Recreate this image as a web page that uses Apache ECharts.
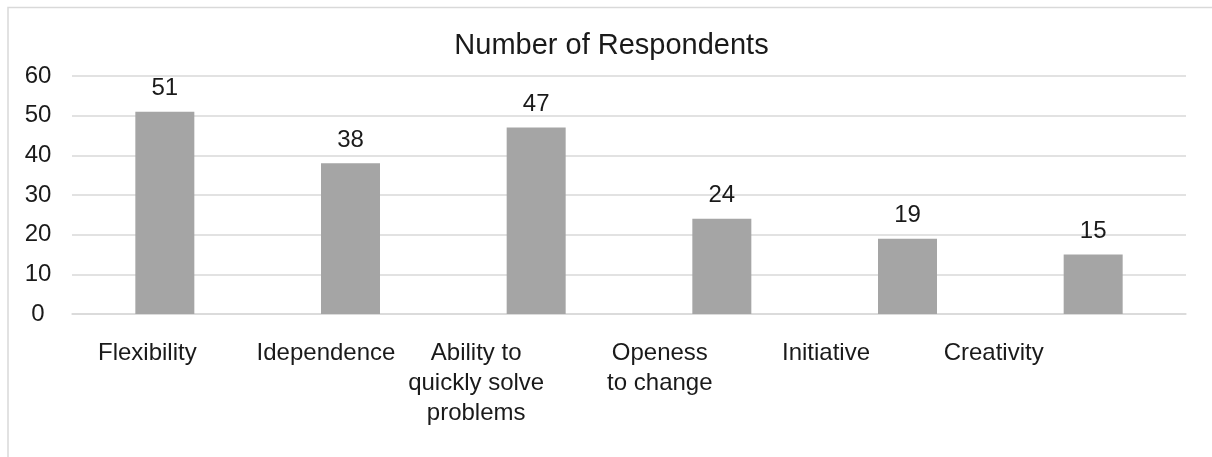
<!DOCTYPE html>
<html>
<head>
<meta charset="utf-8">
<script src="https://cdn.jsdelivr.net/npm/echarts@6/dist/echarts.min.js"></script>
<style>
html,body{margin:0;padding:0;background:#fff;}
#chart{width:1212px;height:457px;}
</style>
</head>
<body>
<div id="chart"></div>
<script>
var categories = ['Flexibility', 'Idependence', 'Ability to\nquickly solve\nproblems', 'Openess\nto change', 'Initiative', 'Creativity'];
var respondents = [51, 38, 47, 24, 19, 15];
var yTicks = [0, 10, 20, 30, 40, 50, 60];
var chartTitle = 'Number of Respondents';

var FONT = "'Liberation Sans', Arial, sans-serif";
// per-label right padding to reproduce the leftward offset of category labels
var labelPad = [35, 49, 120, 124, 163, 199];
var rich = {};
labelPad.forEach(function (p, i) {
  rich['c' + i] = {
    fontFamily: FONT, fontSize: 24, lineHeight: 30, color: '#1a1a1a',
    padding: [0, p, 0, 0], align: 'center'
  };
});

var chart = echarts.init(document.getElementById('chart'), null, {renderer: 'canvas'});
chart.setOption({
  animation: false,
  backgroundColor: '#ffffff',
  title: {
    text: chartTitle,
    left: 606.5,
    textAlign: 'center',
    top: 26,
    textStyle: {fontFamily: FONT, fontSize: 29, fontWeight: 'normal', color: '#1a1a1a'}
  },
  graphic: [{
    type: 'polyline',
    shape: {points: [[8, 457], [8, 7.5], [1212, 7.5]]},
    style: {stroke: '#d9d9d9', lineWidth: 1.5, fill: null},
    silent: true
  }],
  grid: {left: 72, right: 26, top: 76, bottom: 143, containLabel: false, outerBoundsMode: 'none'},
  xAxis: {
    type: 'category',
    data: categories,
    axisLine: {show: true, lineStyle: {color: '#d9d9d9', width: 1.5}},
    axisTick: {show: false},
    axisLabel: {
      interval: 0,
      margin: 24,
      hideOverlap: false,
      formatter: function (v, i) { return '{c' + i + '|' + v + '}'; },
      rich: rich
    }
  },
  yAxis: {
    type: 'value',
    min: yTicks[0],
    max: yTicks[yTicks.length - 1],
    interval: yTicks[1] - yTicks[0],
    axisLine: {show: false},
    axisTick: {show: false},
    splitLine: {lineStyle: {color: '#d9d9d9', width: 1.5}},
    axisLabel: {
      fontFamily: FONT, fontSize: 24, color: '#1a1a1a',
      align: 'center', margin: 34
    }
  },
  series: [{
    type: 'bar',
    data: respondents,
    barWidth: 59,
    itemStyle: {color: '#a5a5a5'},
    label: {
      show: true, position: 'top', distance: 11,
      fontFamily: FONT, fontSize: 24, color: '#1a1a1a'
    }
  }]
});
</script>
</body>
</html>
